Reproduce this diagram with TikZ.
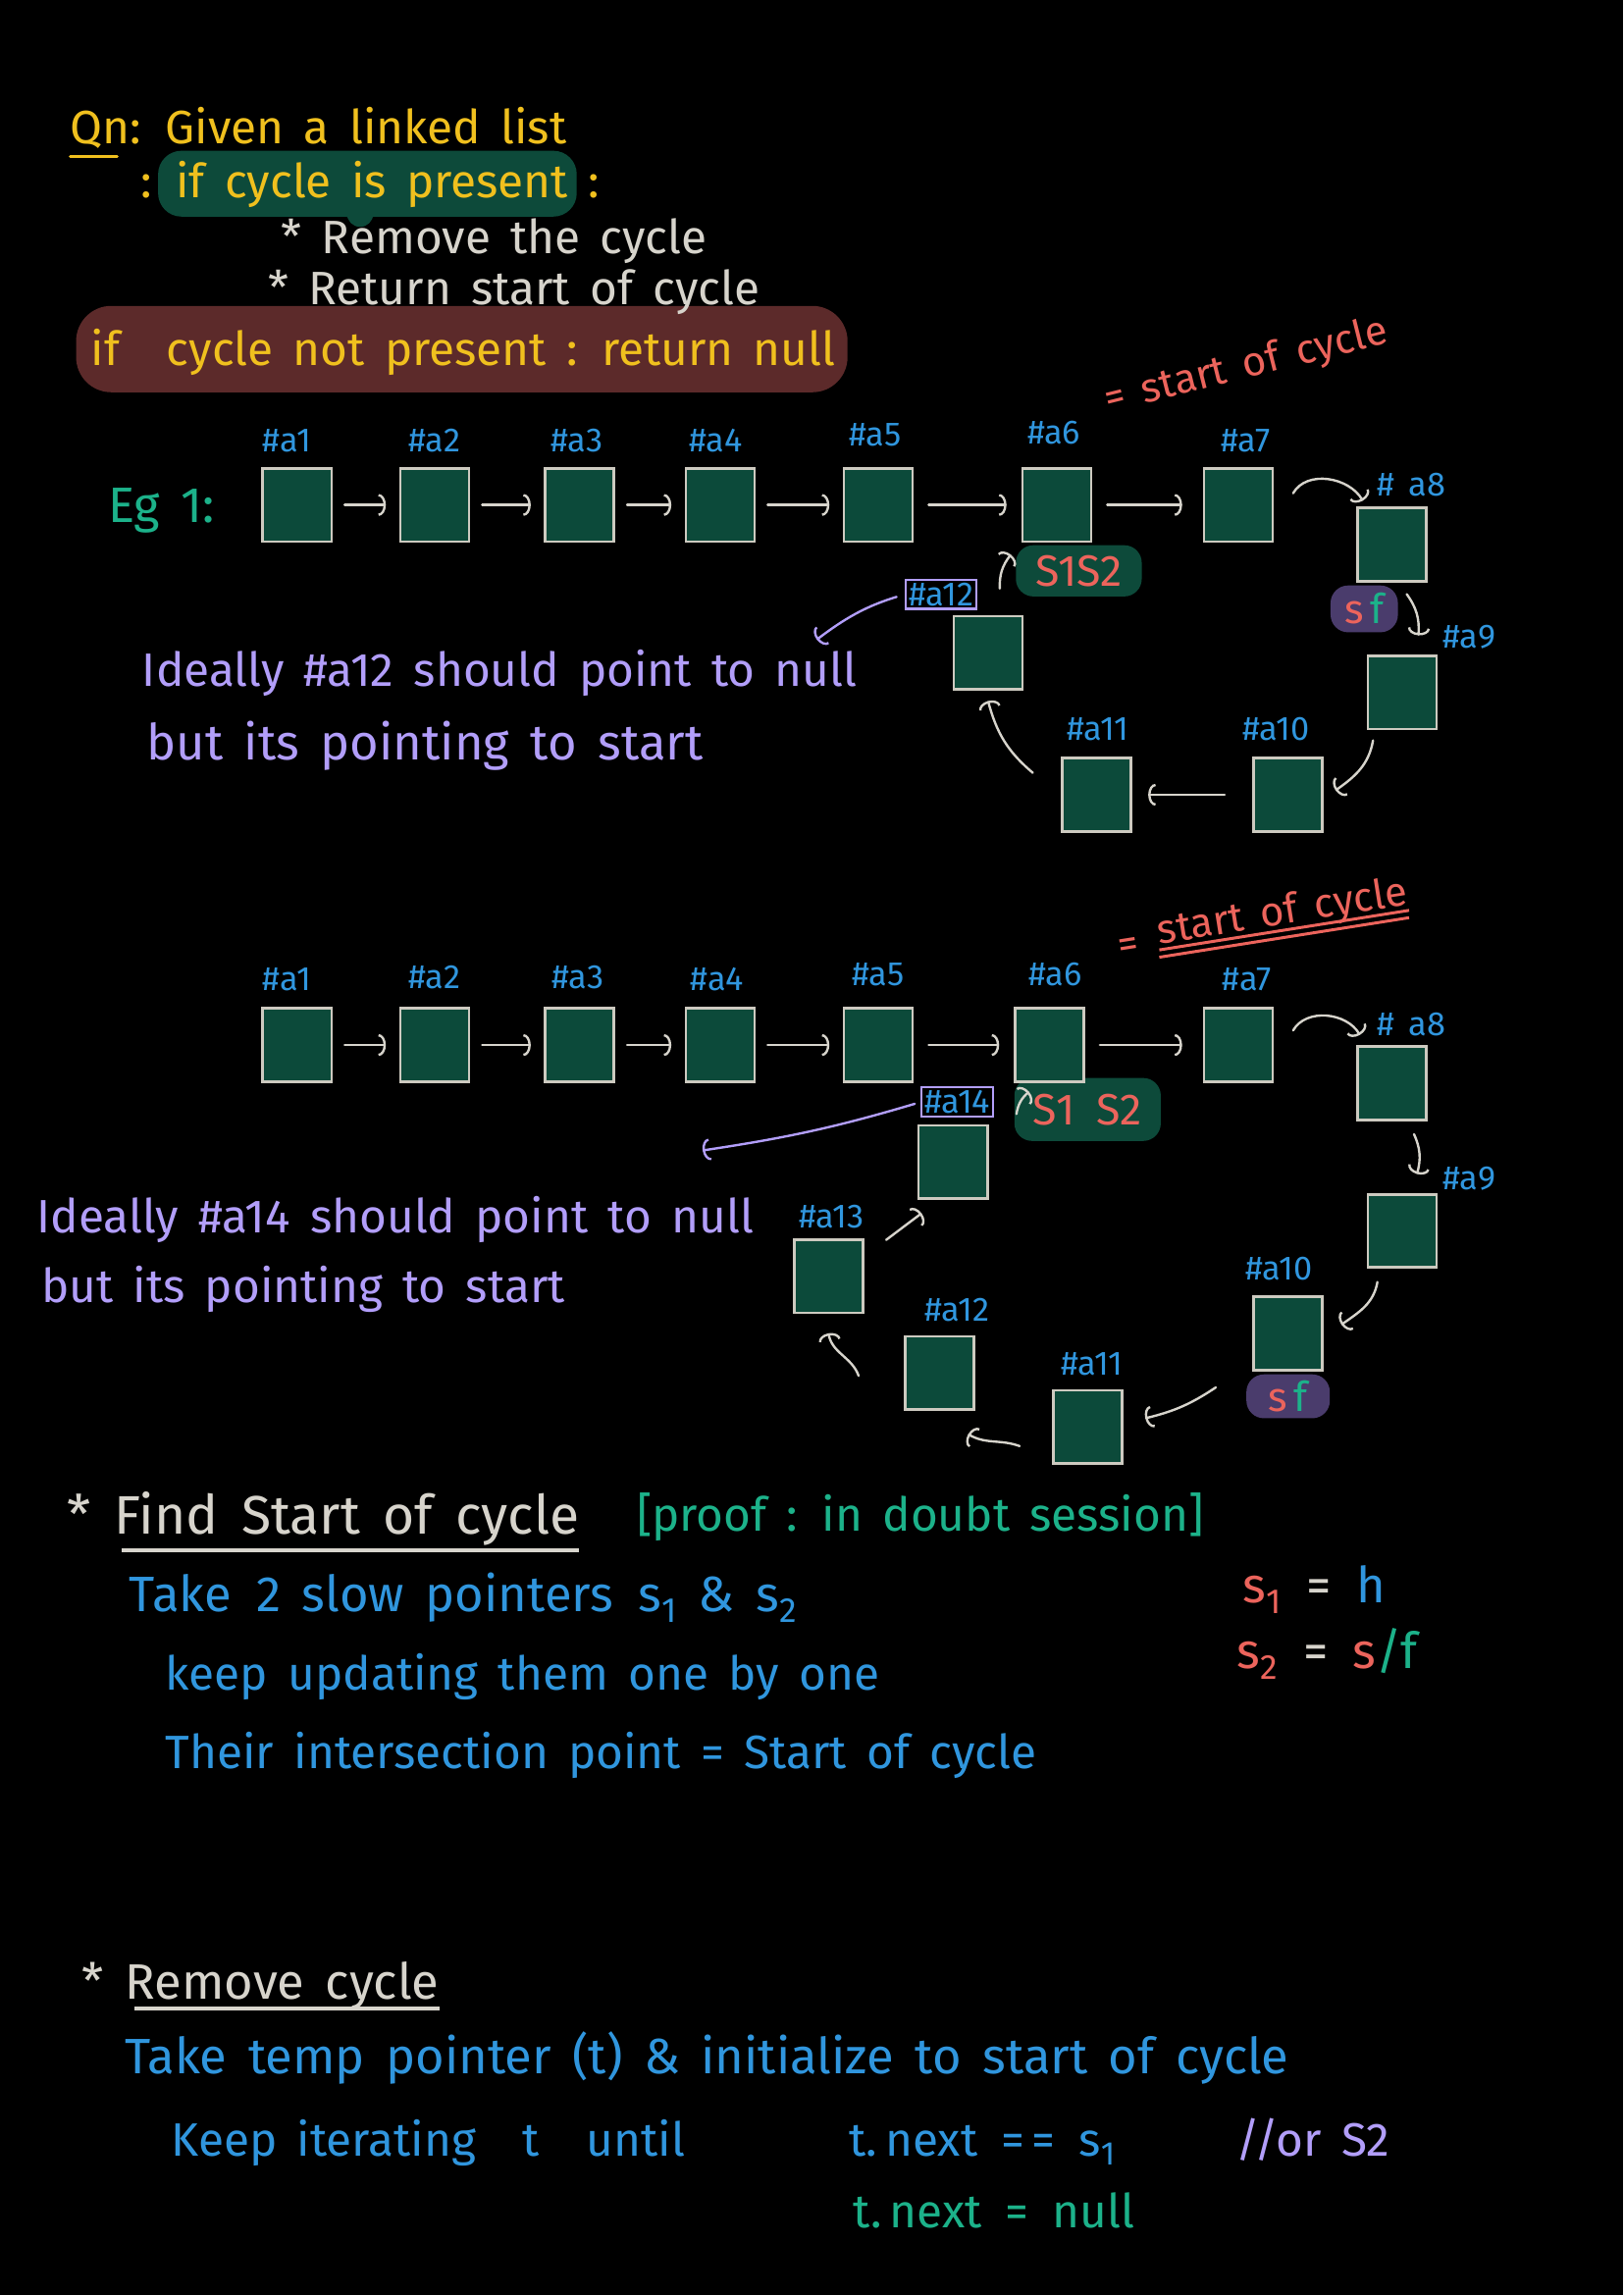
\documentclass[tikz,border=0pt]{standalone}
\usepackage{fontspec}
\setmainfont{Fira Sans}[WordSpace=1.6]
\usetikzlibrary{arrows.meta,positioning}
\definecolor{chalkyel}{RGB}{240,192,30}
\definecolor{chalkwht}{RGB}{215,212,204}
\definecolor{chalkblu}{RGB}{48,150,222}
\definecolor{chalkgrn}{RGB}{28,178,138}
\definecolor{chalkpur}{RGB}{178,158,250}
\definecolor{chalkred}{RGB}{236,100,92}
\definecolor{cellfill}{RGB}{12,74,58}
\definecolor{cellline}{RGB}{205,202,192}
\definecolor{hlgreen}{RGB}{13,74,58}
\definecolor{hlbrown}{RGB}{92,42,42}
\definecolor{hlpurple}{RGB}{74,60,108}

\begin{document}
\begin{tikzpicture}[x=1pt, y=1pt, >={Arc Barb[length=5pt,width=15pt]},
  cell/.style={draw=cellline, fill=cellfill, line width=1.8pt, minimum width=47pt, minimum height=50pt, inner sep=0pt},
  addr/.style={text=chalkblu, font=\fontsize{23}{26}\selectfont, inner sep=1pt},
  link/.style={->, draw=chalkwht, line width=1.6pt, line cap=round},
  ptr/.style={->, draw=chalkpur, line width=1.6pt, line cap=round},
  txt/.style={anchor=base west, inner sep=0pt, font=\fontsize{32}{38}\selectfont},
  meet/.style={fill=hlgreen, rounded corners=12pt, text=chalkred, font=\fontsize{30}{34}\selectfont, minimum width=86pt, minimum height=35pt},
  fastblob/.style={fill=hlpurple, rounded corners=12pt, font=\fontsize{28}{32}\selectfont, minimum width=46pt, minimum height=32pt, inner sep=1pt}]
  % board
  \useasboundingbox (0,0) rectangle (1109,-1568);
  \fill[black] (0,0) rectangle (1109,-1568);

  % question
  \node[txt, text=chalkyel] (qn) at (48,-98) {Qn: Given a linked list};
  \draw[chalkyel, line width=2pt, line cap=round] ([yshift=-9pt]qn.base west) -- ++(32,0);
  \fill[hlgreen, rounded corners=16pt] (108,-103) rectangle (394,-148);
  \fill[hlgreen] (246,-146) circle (9);
  \node[txt, text=chalkyel] (cond) at (96,-135) {: if cycle is present :};
  \fill[hlbrown, rounded corners=24pt] (52,-209) rectangle (579,-268);
  \node[txt, text=chalkwht] (rmv) at (192,-173) {* Remove the cycle};
  \node[txt, text=chalkwht] (ret) at (183,-208) {* Return start of cycle};
  \node[txt, text=chalkyel] (nocyc) at (62,-250) {if\quad cycle not present : return null};

  % example 1
  \node[txt, text=chalkgrn, font=\fontsize{34}{40}\selectfont] (eg) at (74,-357) {Eg 1:};
  \node[txt, text=chalkred, rotate=14, font=\fontsize{28}{32}\selectfont] (st1) at (757,-282) {= start of cycle};
  \node[meet] (m1) at (737,-390) {S1S2};
  \node[fastblob] (f1) at (932,-416) {\textcolor{chalkred}{s}\,\textcolor{chalkgrn}{f}};

  \node[cell] (a1) at (203,-345) {};
  \node[cell] (a2) at (297,-345) {};
  \node[cell] (a3) at (396,-345) {};
  \node[cell] (a4) at (492,-345) {};
  \node[cell] (a5) at (600,-345) {};
  \node[cell] (a6) at (722,-345) {};
  \node[cell] (a7) at (846,-345) {};
  \node[cell] (a8) at (951,-372) {};
  \node[cell] (a9) at (958,-473) {};
  \node[cell] (a10) at (880,-543) {};
  \node[cell] (a11) at (749,-543) {};
  \node[cell] (a12) at (675,-446) {};

  \node[addr] (l1) at (196,-301) {\#a1};
  \node[addr] (l2) at (297,-301) {\#a2};
  \node[addr] (l3) at (394,-301) {\#a3};
  \node[addr] (l4) at (489,-301) {\#a4};
  \node[addr] (l5) at (598,-297) {\#a5};
  \node[addr] (l6) at (720,-296) {\#a6};
  \node[addr] (l7) at (851,-301) {\#a7};
  \node[addr] (l8) at (964,-331) {\# a8};
  \node[addr] (l9) at (1004,-435) {\#a9};
  \node[addr] (l10) at (872,-498) {\#a10};
  \node[addr] (l11) at (750,-498) {\#a11};
  \node[addr, draw=chalkpur, line width=1.4pt, inner sep=2pt] (l12) at (643,-406) {\#a12};

  % links
  \draw[link, shorten <=8pt, shorten >=9pt] (a1) -- (a2);
  \draw[link, shorten <=8pt, shorten >=9pt] (a2) -- (a3);
  \draw[link, shorten <=8pt, shorten >=9pt] (a3) -- (a4);
  \draw[link, shorten <=8pt, shorten >=9pt] (a4) -- (a5);
  \draw[link, shorten <=10pt, shorten >=10pt] (a5) -- (a6);
  \draw[link, shorten <=10pt, shorten >=14pt] (a6) -- (a7);
  \draw[link] ([shift={(13pt,8pt)}]a7.east) to[out=60,in=120] ([shift={(-20pt,4pt)}]a8.north);
  \draw[link] ([shift={(10pt,-8pt)}]a8.south) to[bend left=20] ([shift={(11pt,13pt)}]a9.north);
  \draw[link] ([shift={(-20pt,-7pt)}]a9.south) to[out=-100,in=35] ([shift={(8pt,3pt)}]a10.east);
  \draw[link, shorten <=19pt, shorten >=11pt] (a10) -- (a11);
  \draw[link] ([shift={(-19pt,15pt)}]a11.west) to[out=140,in=-75] ([yshift=-7pt]a12.south);
  \draw[link] ([shift={(8pt,18pt)}]a12.north) to[bend left=20] ([shift={(-7pt,-8pt)}]a6.south west);

  % note 1
  \coordinate (null1) at (558,-437);
  \draw[ptr, shorten <=6pt] (l12.west) to[bend right=10] (null1);
  \node[txt, text=chalkpur] (n1a) at (97,-469) {Ideally \#a12 should point to null};
  \node[txt, text=chalkpur, font=\fontsize{34}{40}\selectfont] (n1b) at (100,-519) {but its pointing to start};

  % example 2
  \node[txt, text=chalkred, rotate=9, font=\fontsize{28}{32}\selectfont] (eq2) at (765,-655) {=};
  \node[txt, text=chalkred, rotate=9, font=\fontsize{28}{32}\selectfont] (st2) at (792,-645) {start of cycle};
  \draw[chalkred, line width=2pt] ([yshift=-4pt]st2.base west) -- ([yshift=-4pt]st2.base east);
  \draw[chalkred, line width=2pt] ([yshift=-9pt]st2.base west) -- ([yshift=-9pt]st2.base east);
  \node[meet, minimum width=100pt, minimum height=43pt] (m2) at (743,-758) {S1\enspace S2};
  \node[fastblob, minimum width=57pt, minimum height=30pt] (f2) at (880,-954) {\textcolor{chalkred}{s}\,\textcolor{chalkgrn}{f}};

  \node[cell] (b1) at (203,-714) {};
  \node[cell] (b2) at (297,-714) {};
  \node[cell] (b3) at (396,-714) {};
  \node[cell] (b4) at (492,-714) {};
  \node[cell] (b5) at (600,-714) {};
  \node[cell] (b6) at (717,-714) {};
  \node[cell] (b7) at (846,-714) {};
  \node[cell] (b8) at (951,-740) {};
  \node[cell] (b9) at (958,-841) {};
  \node[cell] (b10) at (880,-911) {};
  \node[cell] (b11) at (743,-975) {};
  \node[cell] (b12) at (642,-938) {};
  \node[cell] (b13) at (566,-872) {};
  \node[cell] (b14) at (651,-794) {};

  \node[addr] (k1) at (196,-669) {\#a1};
  \node[addr] (k2) at (297,-668) {\#a2};
  \node[addr] (k3) at (395,-668) {\#a3};
  \node[addr] (k4) at (490,-669) {\#a4};
  \node[addr] (k5) at (600,-666) {\#a5};
  \node[addr] (k6) at (721,-666) {\#a6};
  \node[addr] (k7) at (852,-669) {\#a7};
  \node[addr] (k8) at (964,-700) {\# a8};
  \node[addr] (k9) at (1004,-805) {\#a9};
  \node[addr] (k10) at (874,-867) {\#a10};
  \node[addr] (k11) at (746,-932) {\#a11};
  \node[addr] (k12) at (654,-895) {\#a12};
  \node[addr] (k13) at (568,-831) {\#a13};
  \node[addr, draw=chalkpur, line width=1.4pt, inner sep=2pt] (k14) at (654,-753) {\#a14};

  % links
  \draw[link, shorten <=8pt, shorten >=9pt] (b1) -- (b2);
  \draw[link, shorten <=8pt, shorten >=9pt] (b2) -- (b3);
  \draw[link, shorten <=8pt, shorten >=9pt] (b3) -- (b4);
  \draw[link, shorten <=8pt, shorten >=9pt] (b4) -- (b5);
  \draw[link, shorten <=10pt, shorten >=10pt] (b5) -- (b6);
  \draw[link, shorten <=10pt, shorten >=14pt] (b6) -- (b7);
  \draw[link] ([shift={(13pt,10pt)}]b7.east) to[out=60,in=120] ([shift={(-22pt,7pt)}]b8.north);
  \draw[link] ([shift={(15pt,-9pt)}]b8.south) to[bend left=20] ([shift={(10pt,13pt)}]b9.north);
  \draw[link] ([shift={(-17pt,-9pt)}]b9.south) to[out=-100,in=35] ([shift={(12pt,6pt)}]b10.east);
  \draw[link] ([shift={(-25pt,-11pt)}]b10.south west) to[bend left=10] ([shift={(15pt,6pt)}]b11.east);
  \draw[link] ([shift={(-22pt,-13pt)}]b11.west) to[out=160,in=-30] ([shift={(-5pt,-16pt)}]b12.south east);
  \draw[link] ([shift={(-31pt,-2pt)}]b12.west) to[out=110,in=-80] ([yshift=-13pt]b13.south);
  \draw[link] ([shift={(15pt,-1pt)}]b13.north east) -- ([shift={(3pt,-9pt)}]b14.south west);
  \draw[link] ([shift={(19pt,7pt)}]b14.north east) to[bend left=20] ([shift={(-14pt,-6pt)}]b6.south);

  % note 2
  \coordinate (null2) at (480,-786);
  \draw[ptr, shorten <=4pt] (k14.west) to[bend left=4] (null2);
  \node[txt, text=chalkpur] (n2a) at (25,-842) {Ideally \#a14 should point to null};
  \node[txt, text=chalkpur] (n2b) at (28,-890) {but its pointing to start};

  % find start
  \node[txt, text=chalkwht, font=\fontsize{37}{42}\selectfont] (find) at (46,-1048) {* Find Start of cycle};
  \draw[chalkwht, line width=2.5pt] (83,-1059) -- (find.base east |- 0,-1059);
  \node[txt, text=chalkgrn] (proof) at (435,-1046) {[proof : in doubt session]};
  \node[txt, text=chalkblu, font=\fontsize{34}{40}\selectfont] (f1a) at (88,-1101) {Take\enspace 2 slow pointers\enspace s\textsubscript{1} \& s\textsubscript{2}};
  \node[txt, text=chalkblu] (f1b) at (113,-1155) {keep updating them one by one};
  \node[txt, text=chalkblu] (f1c) at (113,-1208) {Their intersection point = Start of cycle};
  \node[txt, font=\fontsize{34}{40}\selectfont] (s1eq) at (849,-1095) {\textcolor{chalkred}{s\textsubscript{1}}\enspace\textcolor{chalkwht}{=}\enspace\textcolor{chalkblu}{h}};
  \node[txt, font=\fontsize{34}{40}\selectfont] (s2eq) at (845,-1140) {\textcolor{chalkred}{s\textsubscript{2}}\enspace\textcolor{chalkwht}{=}\enspace\textcolor{chalkred}{s}\textcolor{chalkgrn}{/f}};

  % remove cycle
  \node[txt, text=chalkwht, font=\fontsize{34}{40}\selectfont] (rem) at (56,-1366) {* Remove cycle};
  \draw[chalkwht, line width=2.5pt] (92,-1372) -- (rem.base east |- 0,-1372);
  \node[txt, text=chalkblu, font=\fontsize{34}{40}\selectfont] (r1a) at (85,-1417) {Take temp pointer (t) \& initialize to start of cycle};
  \node[txt, text=chalkblu] (r1b) at (117,-1473) {Keep iterating\quad t\quad until};
  \node[txt, text=chalkblu] (r1d) at (580,-1473) {t.\,next\enspace =\,=\enspace s\textsubscript{1}};
  \node[txt, text=chalkpur] (r1e) at (844,-1473) {//or S2};
  \node[txt, text=chalkgrn] (r1c) at (583,-1522) {t.\,next\enspace =\enspace null};
\end{tikzpicture}
\end{document}
